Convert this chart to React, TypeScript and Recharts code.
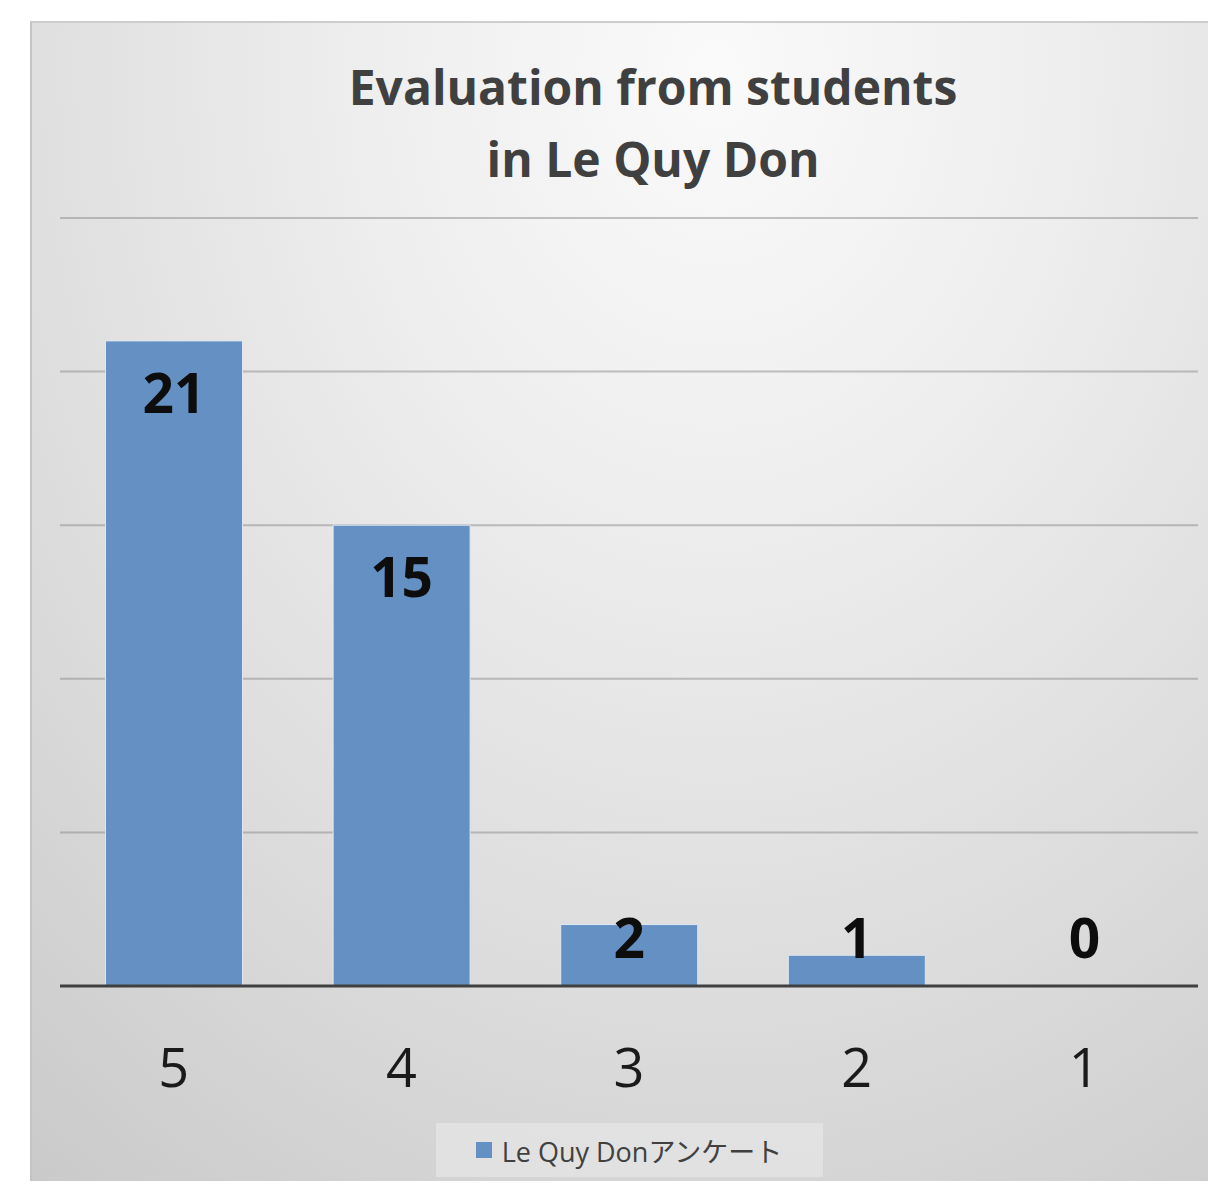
import React from 'react';
import {
  BarChart,
  Bar,
  XAxis,
  YAxis,
  CartesianGrid,
  Legend,
  LabelList,
} from 'recharts';

const categories = ['5', '4', '3', '2', '1'];
const counts = [21, 15, 2, 1, 0];
const yTicks = [0, 5, 10, 15, 20, 25];
const titleLines = ['Evaluation from students', 'in Le Quy Don'];
const seriesName = 'Le Quy Donアンケート';

const data = categories.map((c, i) => ({ rating: c, count: counts[i] }));

const BAR_COLOR = '#6490c4';
const FONT = '"Open Sans", "Noto Sans", "Noto Sans CJK JP", sans-serif';

// Excel-style "inside end" label, pushed up when the bar is too short
const renderValueLabel = (props: any) => {
  const { x, y, width, height, value } = props;
  const axisY = y + height;
  const baseline = Math.min(y + 72, axisY - 28);
  return (
    <text
      x={x + width / 2}
      y={baseline}
      textAnchor="middle"
      fontFamily={FONT}
      fontWeight={700}
      fontSize={55}
      fill="#0d0d0d"
    >
      {value}
    </text>
  );
};

const renderLegend = () => (
  <div style={{ display: 'flex', justifyContent: 'center' }}>
    <div
      style={{
        width: 387,
        height: 54,
        background: 'rgba(235,235,235,0.55)',
        display: 'flex',
        alignItems: 'center',
        justifyContent: 'center',
        fontFamily: FONT,
        fontSize: 27,
        color: '#404040',
      }}
    >
      <span
        style={{
          display: 'inline-block',
          width: 16,
          height: 16,
          background: BAR_COLOR,
          marginRight: 10,
        }}
      />
      {seriesName}
    </div>
  </div>
);

export default function App() {
  return (
    <div
      style={{
        position: 'relative',
        width: 1216,
        height: 1189,
        margin: -8,
        background: '#fff',
        overflow: 'hidden',
      }}
    >
      <div
        style={{
          position: 'absolute',
          left: 30,
          top: 21,
          width: 1220,
          height: 1200,
          borderLeft: '2px solid #c4c4c4',
          borderTop: '2px solid #cdcdcd',
          background:
            'radial-gradient(ellipse 95% 120% at 56% 4%, #fafafa 0%, #eeeeee 30%, #dcdcdc 65%, #c8c8c8 100%)',
        }}
      />
      <div
        style={{
          position: 'absolute',
          left: 153,
          width: 1000,
          top: 51,
          textAlign: 'center',
          fontFamily: FONT,
          fontWeight: 700,
          fontSize: 48,
          lineHeight: '72px',
          color: '#404040',
          whiteSpace: 'nowrap',
        }}
      >
        {titleLines.map((t) => (
          <div key={t}>{t}</div>
        ))}
      </div>
      <div style={{ position: 'absolute', left: 0, top: 0 }}>
        <BarChart
          width={1216}
          height={1189}
          data={data}
          margin={{ top: 218, right: 18, left: 60, bottom: 12 }}
          barCategoryGap="20%"
        >
          <CartesianGrid
            vertical={false}
            stroke="#8a8a8a"
            strokeOpacity={0.5}
            strokeWidth={2}
          />
          <YAxis hide domain={[0, 25]} ticks={yTicks} />
          <XAxis
            dataKey="rating"
            height={137}
            axisLine={{ stroke: '#404040', strokeWidth: 3 }}
            tickLine={false}
            tickSize={0}
            tickMargin={63}
            tick={{ fontSize: 54, fill: '#1a1a1a', fontFamily: FONT }}
          />
          <Legend verticalAlign="bottom" height={54} content={renderLegend} />
          <Bar
            dataKey="count"
            name={seriesName}
            fill={BAR_COLOR}
            stroke="#dfe7f2"
            strokeWidth={1}
            minPointSize={0.01}
            isAnimationActive={false}
          >
            <LabelList dataKey="count" content={renderValueLabel} />
          </Bar>
        </BarChart>
      </div>
    </div>
  );
}
